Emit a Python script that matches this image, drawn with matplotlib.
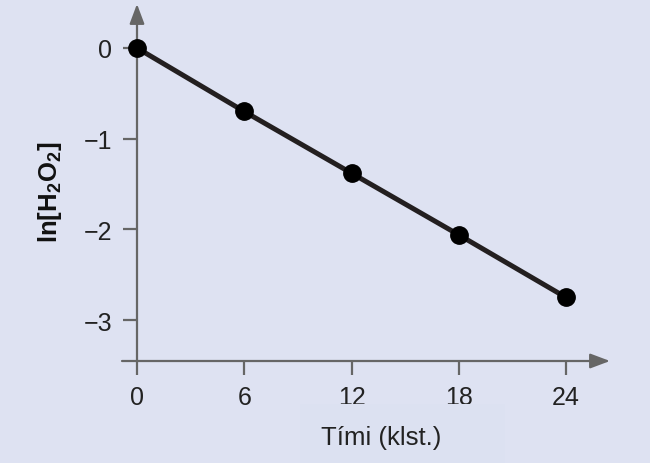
import numpy as np
import matplotlib.pyplot as plt
from matplotlib.patches import Rectangle

# data
hours = [0, 6, 12, 18, 24]
ln_h2o2 = [0.0, -0.70, -1.38, -2.06, -2.75]
xticks = [0, 6, 12, 18, 24]
yticks = [0, -1, -2, -3]
ytick_labels = ['0', '\u22121', '\u22122', '\u22123']

plt.rcParams['font.family'] = ['Liberation Sans', 'DejaVu Sans']
plt.rcParams['mathtext.fontset'] = 'custom'
plt.rcParams['mathtext.rm'] = 'Liberation Sans'
plt.rcParams['mathtext.bf'] = 'Liberation Sans:bold'

bg = '#dee2f2'
axcol = '#666666'
ink = '#231f20'

fig = plt.figure(figsize=(6.5, 4.64), dpi=100, facecolor=bg)
W, H = 650, 464
# axes box in pixels: left 122, right 610, top 5, bottom 362
ax = fig.add_axes([122 / W, (H - 362) / H, (610 - 122) / W, (362 - 5) / H])
ax.set_facecolor('none')

# faint box behind the x label
fig.patches.append(Rectangle((300 / W, 0), 205 / W, 59 / H, transform=fig.transFigure,
                             facecolor='#dce1f1', edgecolor='none', zorder=0))

ax.plot(hours, ln_h2o2, color=ink, lw=3.6, marker='o', ms=12.5, mfc='black', mec='black',
        clip_on=False, zorder=5)

ax.set_xlim(-15 / 17.875, 488 / 17.875 - 15 / 17.875)
ax.set_ylim(-313 / 90.7, 44 / 90.7)

for s in ax.spines.values():
    s.set_visible(False)

# axes with arrow heads
ax.annotate('', xy=(1, 0), xytext=(0, 0), xycoords='axes fraction',
            arrowprops=dict(arrowstyle='-|>,head_length=1.2,head_width=0.45',
                            color=axcol, lw=1.6, shrinkA=0, shrinkB=0))
ax.annotate('', xy=(0, 1), xytext=(0, 0), xycoords=('data', 'axes fraction'),
            arrowprops=dict(arrowstyle='-|>,head_length=1.2,head_width=0.45',
                            color=axcol, lw=1.6, shrinkA=0, shrinkB=0))

ax.set_xticks(xticks)
ax.set_xticklabels([str(t) for t in xticks])
ax.set_yticks(yticks)
ax.set_yticklabels(ytick_labels)
ax.tick_params(axis='x', direction='out', length=10, width=1.6, color=axcol,
               labelsize=18, labelcolor='#222222', pad=7)
ax.tick_params(axis='y', direction='out', length=10, width=1.6, color=axcol,
               labelsize=18, labelcolor='#222222', pad=8)
# y ticks sit on the y axis at x = 0
ax.yaxis.set_ticks_position('left')
ax.spines['left'].set_position(('data', 0))

fig.text(50 / W, 1 - 192 / H, r'$\mathbf{ln[H_2O_2]}$', rotation=90, ha='center', va='center',
         fontsize=18.5, color='#111111')

fig.text(381 / W, 1 - 438 / H, 'Tími (klst.)', ha='center', va='center',
         fontsize=18.5, color='#222222')

fig.savefig('out.png', dpi=100, facecolor=bg)
